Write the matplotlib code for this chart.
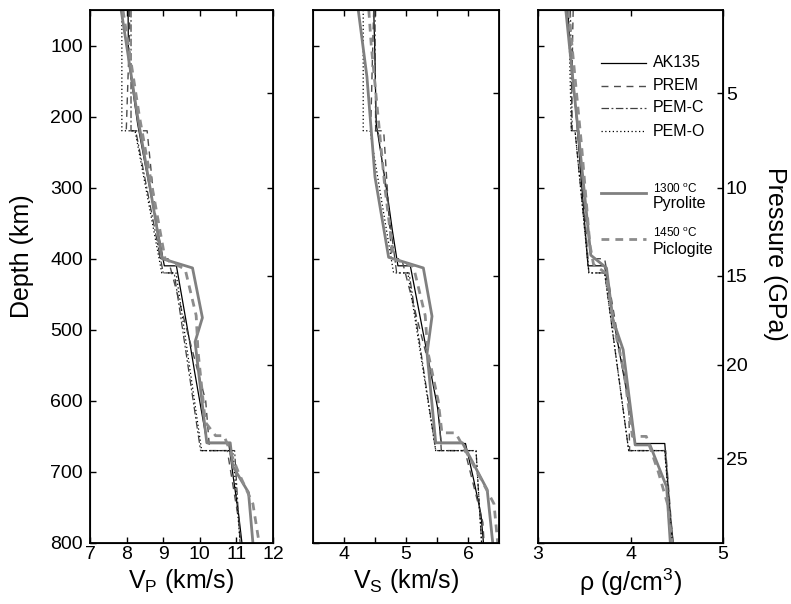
import numpy as np
import matplotlib
matplotlib.use("Agg")
import matplotlib.pyplot as plt
from matplotlib.lines import Line2D

plt.rcParams['font.family'] = ['Liberation Sans', 'DejaVu Sans']
plt.rcParams['mathtext.fontset'] = 'custom'
plt.rcParams['mathtext.rm'] = 'Liberation Sans'
plt.rcParams['mathtext.it'] = 'Liberation Sans:italic'
plt.rcParams['mathtext.default'] = 'regular'

# ---- seismic reference models (depth km) ----
ak_depth = [50, 120, 165, 210, 260, 310, 360, 410, 410, 460, 510, 560, 610, 660, 660, 710, 760, 800]
ak_vp = [8.04, 8.05, 8.175, 8.30, 8.48, 8.665, 8.85, 9.03, 9.36, 9.53, 9.70, 9.86, 10.03, 10.20, 10.79, 10.92, 11.06, 11.15]
ak_vs = [4.48, 4.50, 4.51, 4.52, 4.61, 4.70, 4.78, 4.87, 5.07, 5.18, 5.29, 5.40, 5.51, 5.57, 5.96, 6.09, 6.21, 6.25]
ak_rho = [3.32, 3.36, 3.39, 3.42, 3.45, 3.48, 3.51, 3.54, 3.72, 3.78, 3.85, 3.92, 3.99, 4.05, 4.37, 4.40, 4.43, 4.46]

prem_depth = [50, 80, 220, 220, 400, 400, 600, 670, 670, 771, 800]
prem_vp = [8.08, 8.08, 7.99, 8.56, 8.91, 9.13, 10.16, 10.27, 10.75, 11.07, 11.12]
prem_vs = [4.48, 4.47, 4.43, 4.64, 4.77, 4.93, 5.52, 5.57, 5.95, 6.24, 6.26]
prem_rho = [3.38, 3.375, 3.36, 3.44, 3.54, 3.72, 3.98, 3.99, 4.38, 4.44, 4.46]

pem_depth = [50, 220, 220, 420, 420, 670, 670, 800]
pemc_vp = [8.12, 8.12, 8.25, 9.00, 9.30, 10.02, 10.95, 11.10]
pemc_vs = [4.50, 4.51, 4.55, 4.85, 5.05, 5.48, 6.13, 6.22]
pemc_rho = [3.35, 3.37, 3.40, 3.55, 3.72, 3.98, 4.37, 4.45]
pemo_vp = [7.87, 7.87, 8.23, 8.96, 9.35, 10.05, 10.90, 11.10]
pemo_vs = [4.31, 4.31, 4.42, 4.80, 5.03, 5.48, 6.13, 6.22]
pemo_rho = [3.33, 3.36, 3.40, 3.55, 3.72, 3.98, 4.37, 4.45]

# ---- mineral physics profiles ----
pyro_vp_depth = [50, 100, 200, 300, 400, 413, 483, 517, 659, 659, 692, 729, 800]
pyro_vp = [7.85, 8.00, 8.30, 8.64, 8.97, 9.80, 10.07, 9.87, 10.19, 10.83, 10.90, 11.33, 11.45]
pyro_vs_depth = [50, 144, 285, 398, 413, 481, 533, 659, 659, 725, 800]
pyro_vs = [4.23, 4.37, 4.50, 4.72, 5.28, 5.42, 5.34, 5.48, 5.91, 6.31, 6.40]
pyro_rho_depth = [50, 395, 413, 486, 528, 662, 662, 721, 800]
pyro_rho = [3.30, 3.57, 3.74, 3.81, 3.92, 4.05, 4.21, 4.39, 4.43]

pic_vp_depth = [50, 100, 200, 300, 400, 415, 480, 530, 630, 649, 649, 700, 745, 800]
pic_vp = [7.90, 8.05, 8.35, 8.70, 9.05, 9.60, 9.90, 9.95, 10.15, 10.43, 10.66, 11.05, 11.45, 11.62]
pic_vs_depth = [50, 100, 200, 300, 400, 411, 480, 530, 600, 645, 645, 700, 745, 800]
pic_vs = [4.40, 4.44, 4.55, 4.66, 4.80, 5.12, 5.31, 5.35, 5.52, 5.58, 5.80, 6.15, 6.42, 6.48]
pic_rho_depth = [50, 240, 380, 408, 420, 500, 560, 650, 650, 700, 745, 800]
pic_rho = [3.33, 3.47, 3.56, 3.60, 3.73, 3.83, 3.93, 4.02, 4.17, 4.30, 4.40, 4.45]

pressure_gpa = [5, 10, 15, 20, 25]
pressure_depth = [167, 300, 424, 549, 681]
depth_ticks = [100, 200, 300, 400, 500, 600, 700, 800]

styles = {
    'AK135': dict(color='k', lw=0.9, ls='-'),
    'PREM': dict(color='0.3', lw=1.0, ls=(0, (5, 4))),
    'PEM-C': dict(color='0.25', lw=0.9, ls=(0, (6, 2, 1.5, 2))),
    'PEM-O': dict(color='k', lw=0.9, ls=(0, (1, 2))),
    'pyro': dict(color='0.5', lw=2.0, ls='-'),
    'pic': dict(color='0.55', lw=2.0, ls=(0, (2.8, 2.2))),
}

fig = plt.figure(figsize=(7.91, 6.04), dpi=100)
ax1 = fig.add_axes([0.1138, 0.1010, 0.2314, 0.8825])
ax2 = fig.add_axes([0.3957, 0.1010, 0.2351, 0.8825])
ax3 = fig.add_axes([0.6802, 0.1010, 0.2339, 0.8825])

panels = [
    (ax1, ak_vp, prem_vp, pemc_vp, pemo_vp, (pyro_vp_depth, pyro_vp), (pic_vp_depth, pic_vp)),
    (ax2, ak_vs, prem_vs, pemc_vs, pemo_vs, (pyro_vs_depth, pyro_vs), (pic_vs_depth, pic_vs)),
    (ax3, ak_rho, prem_rho, pemc_rho, pemo_rho, (pyro_rho_depth, pyro_rho), (pic_rho_depth, pic_rho)),
]

for ax, ak, prem, pemc, pemo, pyro, pic in panels:
    ax.plot(ak, ak_depth, **styles['AK135'])
    ax.plot(prem, prem_depth, **styles['PREM'])
    ax.plot(pemc, pem_depth, **styles['PEM-C'])
    ax.plot(pemo, pem_depth, **styles['PEM-O'])
    ax.plot(pyro[1], pyro[0], **styles['pyro'])
    ax.plot(pic[1], pic[0], **styles['pic'])
    ax.set_ylim(800, 50)
    ax.set_yticks(depth_ticks)
    ax.tick_params(direction='in', top=True, length=4, width=1, labelsize=14, pad=2)
    ax.tick_params(axis='y', pad=5)
    for s in ax.spines.values():
        s.set_linewidth(1.3)
    axr = ax.twinx()
    axr.set_ylim(800, 50)
    axr.set_yticks(pressure_depth)
    axr.tick_params(direction='in', length=4, width=1, labelsize=14, pad=2)
    if ax is ax3:
        axr.set_yticklabels([str(p) for p in pressure_gpa])
        axr.set_ylabel('Pressure (GPa)', fontsize=18, rotation=270)
        axr.yaxis.set_label_coords(1.281, 0.542)
        axr.yaxis.label.set_va('center')
        axr.yaxis.label.set_ha('center')
    else:
        axr.set_yticklabels([])
    if ax is not ax1:
        ax.set_yticklabels([])

ax1.set_xlim(7, 12)
ax1.set_xticks([7, 8, 9, 10, 11, 12])
ax2.set_xlim(3.5, 6.5)
ax2.set_xticks([4, 4.5, 5, 5.5, 6])
ax2.set_xticklabels(['4', '', '5', '', '6'])
ax3.set_xlim(3, 5)
ax3.set_xticks([3, 4, 5])

ax1.set_ylabel('Depth (km)', fontsize=18)
ax1.yaxis.set_label_coords(-0.372, 0.538)
ax1.yaxis.label.set_va('center')

ax1.set_xlabel('V$_\\mathrm{P}$ (km/s)', fontsize=18)
ax2.set_xlabel('V$_\\mathrm{S}$ (km/s)', fontsize=18)
ax3.set_xlabel('ρ (g/cm$^3$)', fontsize=18)
for ax in (ax1, ax2, ax3):
    ax.xaxis.set_label_coords(0.5, -0.045)

# hand-placed legend in the density panel
legend_rows = [
    ('AK135', 0.901, 'AK135'),
    ('PREM', 0.858, 'PREM'),
    ('PEM-C', 0.817, 'PEM-C'),
    ('PEM-O', 0.772, 'PEM-O'),
]
for key, y, label in legend_rows:
    ax3.add_line(Line2D([0.341, 0.584], [y, y], transform=ax3.transAxes, **styles[key]))
    ax3.text(0.622, y, label, transform=ax3.transAxes, fontsize=11.5, va='center')

ax3.add_line(Line2D([0.341, 0.584], [0.657, 0.657], transform=ax3.transAxes, **styles['pyro']))
ax3.text(0.622, 0.664, '1300 $^o$C', transform=ax3.transAxes, fontsize=8.5, va='center')
ax3.text(0.622, 0.636, 'Pyrolite', transform=ax3.transAxes, fontsize=11.5, va='center')
ax3.add_line(Line2D([0.341, 0.584], [0.570, 0.570], transform=ax3.transAxes, **styles['pic']))
ax3.text(0.622, 0.582, '1450 $^o$C', transform=ax3.transAxes, fontsize=8.5, va='center')
ax3.text(0.622, 0.550, 'Piclogite', transform=ax3.transAxes, fontsize=11.5, va='center')

fig.savefig('out.png', dpi=100)
